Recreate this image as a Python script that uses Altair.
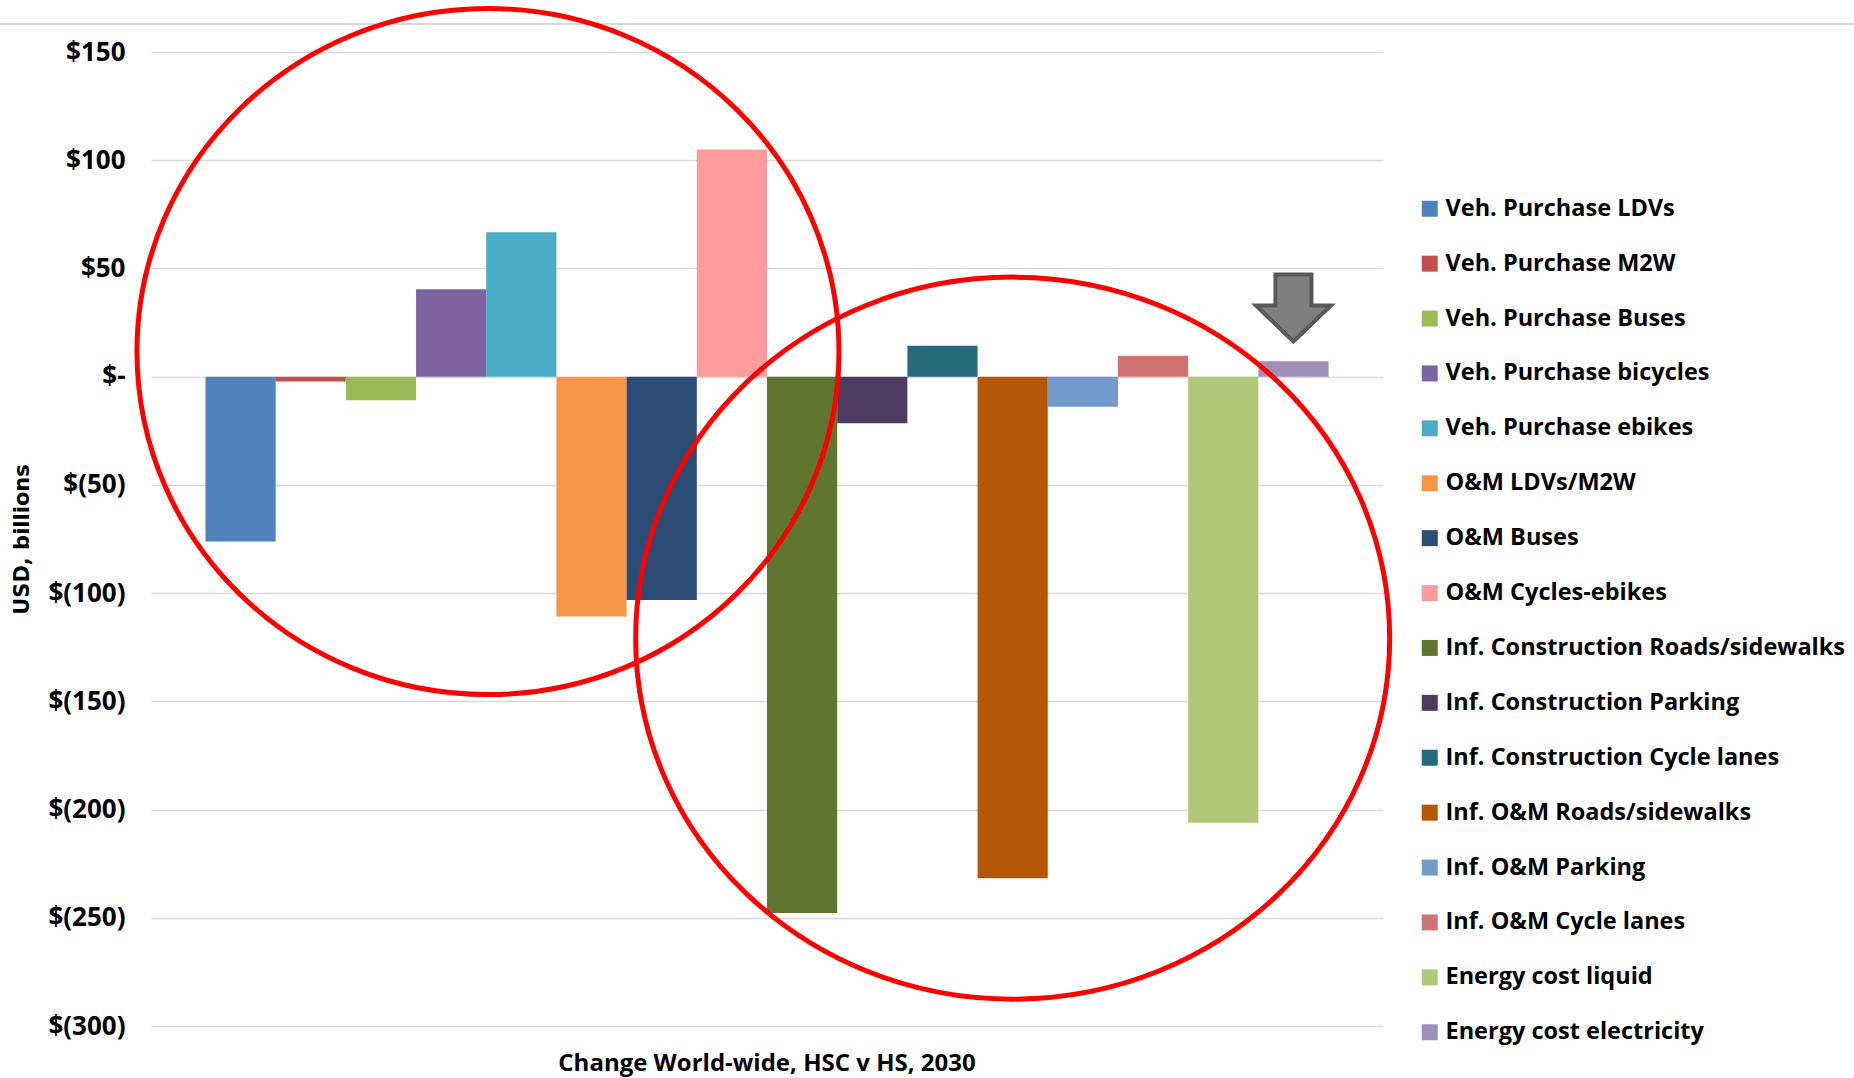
import altair as alt
import pandas as pd

# Single category on the x axis, one bar per cost component
category = "Change World-wide, HSC v HS, 2030"

series = [
    "Veh. Purchase LDVs",
    "Veh. Purchase M2W",
    "Veh. Purchase Buses",
    "Veh. Purchase bicycles",
    "Veh. Purchase ebikes",
    "O&M LDVs/M2W",
    "O&M Buses",
    "O&M Cycles-ebikes",
    "Inf. Construction Roads/sidewalks",
    "Inf. Construction Parking",
    "Inf. Construction Cycle lanes",
    "Inf. O&M Roads/sidewalks",
    "Inf. O&M Parking",
    "Inf. O&M Cycle lanes",
    "Energy cost liquid",
    "Energy cost electricity",
]

# Change in cost, USD billions
values = [-76.1, -2.2, -10.9, 40.4, 66.7, -110.8, -103.2, 104.9,
          -247.8, -21.5, 14.3, -231.7, -13.9, 9.7, -206.1, 7.1]

colors = [
    "#4F81BD", "#C0504D", "#9BBB59", "#8064A2", "#4BACC6", "#F79646",
    "#2C4D75", "#FF9B9B", "#5F7530", "#4D3B62", "#276A7C", "#B65708",
    "#729ACA", "#CD7371", "#AFC97A", "#9F8DBA",
]

y_ticks = [150, 100, 50, 0, -50, -100, -150, -200, -250, -300]

# Highlight annotations: anchor bar and vertical centre (USD billions)
ring_anchor = ["Veh. Purchase bicycles", "Inf. O&M Roads/sidewalks"]
ring_center = [11.6, -120.8]
arrow_anchor = ["Energy cost electricity"]
arrow_center = [31.7]

FONT = "Open Sans"

bars_df = pd.DataFrame({"group": category, "series": series, "value": values})

x_enc = alt.X(
    "group:N",
    title=None,
    scale=alt.Scale(paddingInner=0, paddingOuter=0.0485),
    axis=alt.Axis(
        labelAngle=0, domain=False, ticks=False, labelPadding=25,
        labelFont=FONT, labelFontSize=24, labelFontWeight="bold",
        labelColor="#000000", labelLimit=1000,
    ),
)
xoff_enc = alt.XOffset(
    "series:N", scale=alt.Scale(domain=series, paddingInner=0, paddingOuter=0)
)
y_scale = alt.Scale(domain=[-300, 150], nice=False, zero=True)

bars = alt.Chart(bars_df).mark_bar().encode(
    x=x_enc,
    xOffset=xoff_enc,
    y=alt.Y(
        "value:Q",
        scale=y_scale,
        title="USD, billions",
        axis=alt.Axis(
            values=y_ticks,
            labelExpr="datum.value == 0 ? '$-' : (datum.value < 0 ? '$(' + (-datum.value) + ')' : '$' + datum.value)",
            domain=False, ticks=False, labelPadding=26,
            labelFont=FONT, labelFontSize=26, labelFontWeight="bold",
            labelColor="#000000",
            grid=True, gridColor="#d9d9d9", gridWidth=1.5,
            titleFont="DejaVu Sans", titleFontSize=21, titleFontWeight="bold",
            titleColor="#000000", titleAngle=270, titleBaseline="bottom",
            titleAlign="center", titleX=-119, titleY=487,
        ),
    ),
    color=alt.Color(
        "series:N",
        scale=alt.Scale(domain=series, range=colors),
        legend=alt.Legend(
            title=None, orient="none", legendX=1267, legendY=145,
            symbolType="square", symbolSize=256, symbolStrokeWidth=0,
            labelFont=FONT, labelFontSize=23.5, labelFontWeight="bold",
            labelColor="#000000", labelOffset=4, rowPadding=29.9,
            labelLimit=600, padding=0,
        ),
    ),
)


def ellipse_path(ratio, shift=0.0):
    k = 0.5523
    b = ratio
    s = shift
    return (
        f"M {-1+s:.4f} 0 C {-1+s:.4f} {-k*b:.4f} {-k+s:.4f} {-b:.4f} {s:.4f} {-b:.4f} "
        f"C {k+s:.4f} {-b:.4f} {1+s:.4f} {-k*b:.4f} {1+s:.4f} 0 "
        f"C {1+s:.4f} {k*b:.4f} {k+s:.4f} {b:.4f} {s:.4f} {b:.4f} "
        f"C {-k+s:.4f} {b:.4f} {-1+s:.4f} {k*b:.4f} {-1+s:.4f} 0 Z"
    )


ring_left_df = pd.DataFrame({"group": [category], "series": [ring_anchor[0]], "value": [ring_center[0]]})
ring_right_df = pd.DataFrame({"group": [category], "series": [ring_anchor[1]], "value": [ring_center[1]]})
arrow_df = pd.DataFrame({"group": [category], "series": arrow_anchor, "value": arrow_center})

ring_left = alt.Chart(ring_left_df).mark_point(
    shape=ellipse_path(343 / 351, 0.105), size=702 ** 2,
    filled=False, stroke="#ff0000", strokeWidth=5, opacity=1,
).encode(x=x_enc, xOffset=xoff_enc, y=alt.Y("value:Q", scale=y_scale))

ring_right = alt.Chart(ring_right_df).mark_point(
    shape=ellipse_path(361 / 377), size=754 ** 2,
    filled=False, stroke="#ff0000", strokeWidth=5, opacity=1,
).encode(x=x_enc, xOffset=xoff_enc, y=alt.Y("value:Q", scale=y_scale))

arrow_path = ("M -0.48 -0.893 L 0.48 -0.893 L 0.48 -0.067 L 1 -0.067 "
              "L 0 0.893 L -1 -0.067 L -0.48 -0.067 Z")
arrow = alt.Chart(arrow_df).mark_point(
    shape=arrow_path, size=75 ** 2, filled=True,
    fill="#7f7f7f", stroke="#595959", strokeWidth=4, opacity=1, fillOpacity=1,
).encode(x=x_enc, xOffset=xoff_enc, y=alt.Y("value:Q", scale=y_scale))

# Thin frame line across the top of the figure
top_line = alt.Chart(bars_df).mark_rule(color="#d9d9d9", strokeWidth=2).encode(
    x=alt.value(-151), x2=alt.value(1703), y=alt.value(-28)
)

chart = alt.layer(top_line, bars, ring_left, ring_right, arrow).properties(
    width=1232,
    height=974,
    autosize=alt.AutoSizeParams(type="none"),
    padding={"left": 151, "top": 52, "right": 471, "bottom": 52},
    background="#ffffff",
).configure_view(strokeWidth=0)

chart.save("out.html", embed_options={"renderer": "svg", "actions": False})
